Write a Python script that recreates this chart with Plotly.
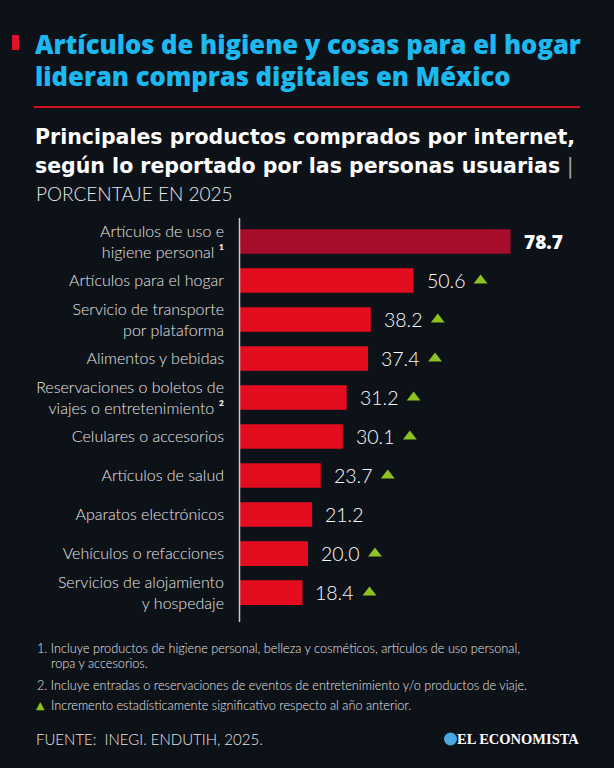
import plotly.graph_objects as go

categories = [
    "Artículos de uso e<br>higiene personal <b>¹</b>",
    "Artículos para el hogar",
    "Servicio de transporte<br>por plataforma",
    "Alimentos y bebidas",
    "Reservaciones o boletos de<br>viajes o entretenimiento <b>²</b>",
    "Celulares o accesorios",
    "Artículos de salud",
    "Aparatos electrónicos",
    "Vehículos o refacciones",
    "Servicios de alojamiento<br>y hospedaje",
]
values = [78.7, 50.6, 38.2, 37.4, 31.2, 30.1, 23.7, 21.2, 20.0, 18.4]
significant = [False, True, True, True, True, True, True, False, True, True]

W, H = 614, 768
L, R = 239, 10
T, B = 222, 148
plot_w = W - L - R
plot_h = H - T - B
PX_PER_UNIT = 3.45
xmax = plot_w / PX_PER_UNIT

BG = "#0d1118"
RED = "#e30d1f"
DARK_RED = "#a50d2a"
GREEN = "#8dc21f"
CYAN = "#1cb9f0"
FONT = "Lato"
HFONT = "Open Sans"
SFONT = "DejaVu Sans"


def px(x):
    return (x - L) / plot_w


def py(y):
    return (H - B - y) / plot_h


bar_colors = [DARK_RED] + [RED] * (len(values) - 1)

fig = go.Figure()
fig.add_trace(go.Bar(
    x=values, y=categories, orientation="h",
    marker=dict(color=bar_colors, line=dict(width=0)),
    width=0.63, hoverinfo="skip",
))

tri_x = [v + 67 / PX_PER_UNIT for v, s in zip(values, significant) if s]
tri_y = [c for c, s in zip(categories, significant) if s]
fig.add_trace(go.Scatter(
    x=tri_x, y=tri_y, mode="markers",
    marker=dict(symbol="triangle-up", size=12, color=GREEN, line=dict(width=0)),
    hoverinfo="skip",
))

annotations = []
for i, (c, v) in enumerate(zip(categories, values)):
    if i == 0:
        font = dict(family=HFONT, size=19, color="#ffffff", weight=800)
    else:
        font = dict(family=FONT, size=19.5, color="#ffffff", weight=300)
    annotations.append(dict(
        x=v, y=c, xref="x", yref="y", text=f"{v:.1f}", showarrow=False,
        xanchor="left", yanchor="middle", xshift=11, font=font,
    ))

# Header
annotations += [
    dict(x=px(33), y=py(45), xref="paper", yref="paper", xanchor="left", yanchor="middle",
         text="Artículos de higiene y cosas para el hogar", showarrow=False,
         font=dict(family=HFONT, size=25.6, color=CYAN, weight=800)),
    dict(x=px(33), y=py(76), xref="paper", yref="paper", xanchor="left", yanchor="middle",
         text="lideran compras digitales en México", showarrow=False,
         font=dict(family=HFONT, size=25.6, color=CYAN, weight=800)),
    dict(x=px(33), y=py(137), xref="paper", yref="paper", xanchor="left", yanchor="middle",
         text="<b>Principales productos comprados por internet,</b>", showarrow=False,
         font=dict(family=SFONT, size=20.5, color="#ffffff")),
    dict(x=px(33), y=py(166), xref="paper", yref="paper", xanchor="left", yanchor="middle",
         text="<b>según lo reportado por las personas usuarias</b> <span style='color:#a0a0a0'>|</span>",
         showarrow=False, font=dict(family=SFONT, size=20.5, color="#ffffff")),
    dict(x=px(34), y=py(194), xref="paper", yref="paper", xanchor="left", yanchor="middle",
         text="PORCENTAJE EN 2025", showarrow=False,
         font=dict(family=FONT, size=19, color="#e6e6e6", weight=300)),
]

# Footnotes
notes = [
    (35, 648, "1. Incluye productos de higiene personal, belleza y cosméticos, artículos de uso personal,"),
    (49, 663, "ropa y accesorios."),
    (35, 685, "2. Incluye entradas o reservaciones de eventos de entretenimiento y/o productos de viaje."),
    (49, 705, "Incremento estadísticamente significativo respecto al año anterior."),
]
for x0, y0, t in notes:
    annotations.append(dict(x=px(x0), y=py(y0), xref="paper", yref="paper", xanchor="left",
                            yanchor="middle", text=t, showarrow=False,
                            font=dict(family=FONT, size=12.7, color="#e6e6e6", weight=300)))
annotations.append(dict(x=px(34), y=py(705), xref="paper", yref="paper", xanchor="left",
                        yanchor="middle", text="▲", showarrow=False,
                        font=dict(family="DejaVu Sans", size=11, color=GREEN)))
annotations.append(dict(x=px(34), y=py(739), xref="paper", yref="paper", xanchor="left",
                        yanchor="middle", text="FUENTE:  INEGI. ENDUTIH, 2025.", showarrow=False,
                        font=dict(family=FONT, size=15, color="#e6e6e6", weight=300)))
annotations.append(dict(x=px(581), y=py(739), xref="paper", yref="paper", xanchor="right",
                        yanchor="middle", text="<b>EL ECONOMISTA</b>", showarrow=False,
                        font=dict(family="Liberation Serif", size=14.5, color="#ffffff")))

shapes = [
    # red square
    dict(type="rect", xref="paper", yref="paper", x0=px(12), x1=px(19), y0=py(50), y1=py(35),
         fillcolor="#e4112a", line=dict(width=0)),
    # red rule
    dict(type="line", xref="paper", yref="paper", x0=px(34), x1=px(580), y0=py(107), y1=py(107),
         line=dict(color="#d0101f", width=2)),
    # axis line
    dict(type="line", xref="paper", yref="paper", x0=px(239.5), x1=px(239.5), y0=py(218), y1=py(622),
         line=dict(color="#c8c8c8", width=1.5)),
    # logo circle
    dict(type="circle", xref="paper", yref="paper", x0=px(444), x1=px(457), y0=py(745.5), y1=py(732.5),
         fillcolor="#4aa8e0", line=dict(width=0)),
]

fig.update_layout(
    width=W, height=H,
    margin=dict(l=L, r=R, t=T, b=B, pad=0),
    paper_bgcolor=BG, plot_bgcolor=BG,
    showlegend=False,
    bargap=0.37,
    xaxis=dict(range=[0, xmax], visible=False, fixedrange=True),
    yaxis=dict(autorange="reversed", showgrid=False, zeroline=False, showline=False,
               ticks="", ticklabelstandoff=14,
               tickfont=dict(family=FONT, size=16, color="#e6e6e6", weight=300), fixedrange=True),
    annotations=annotations,
    shapes=shapes,
    font=dict(family=FONT),
)

fig.write_html("out.html", config=dict(displayModeBar=False))
